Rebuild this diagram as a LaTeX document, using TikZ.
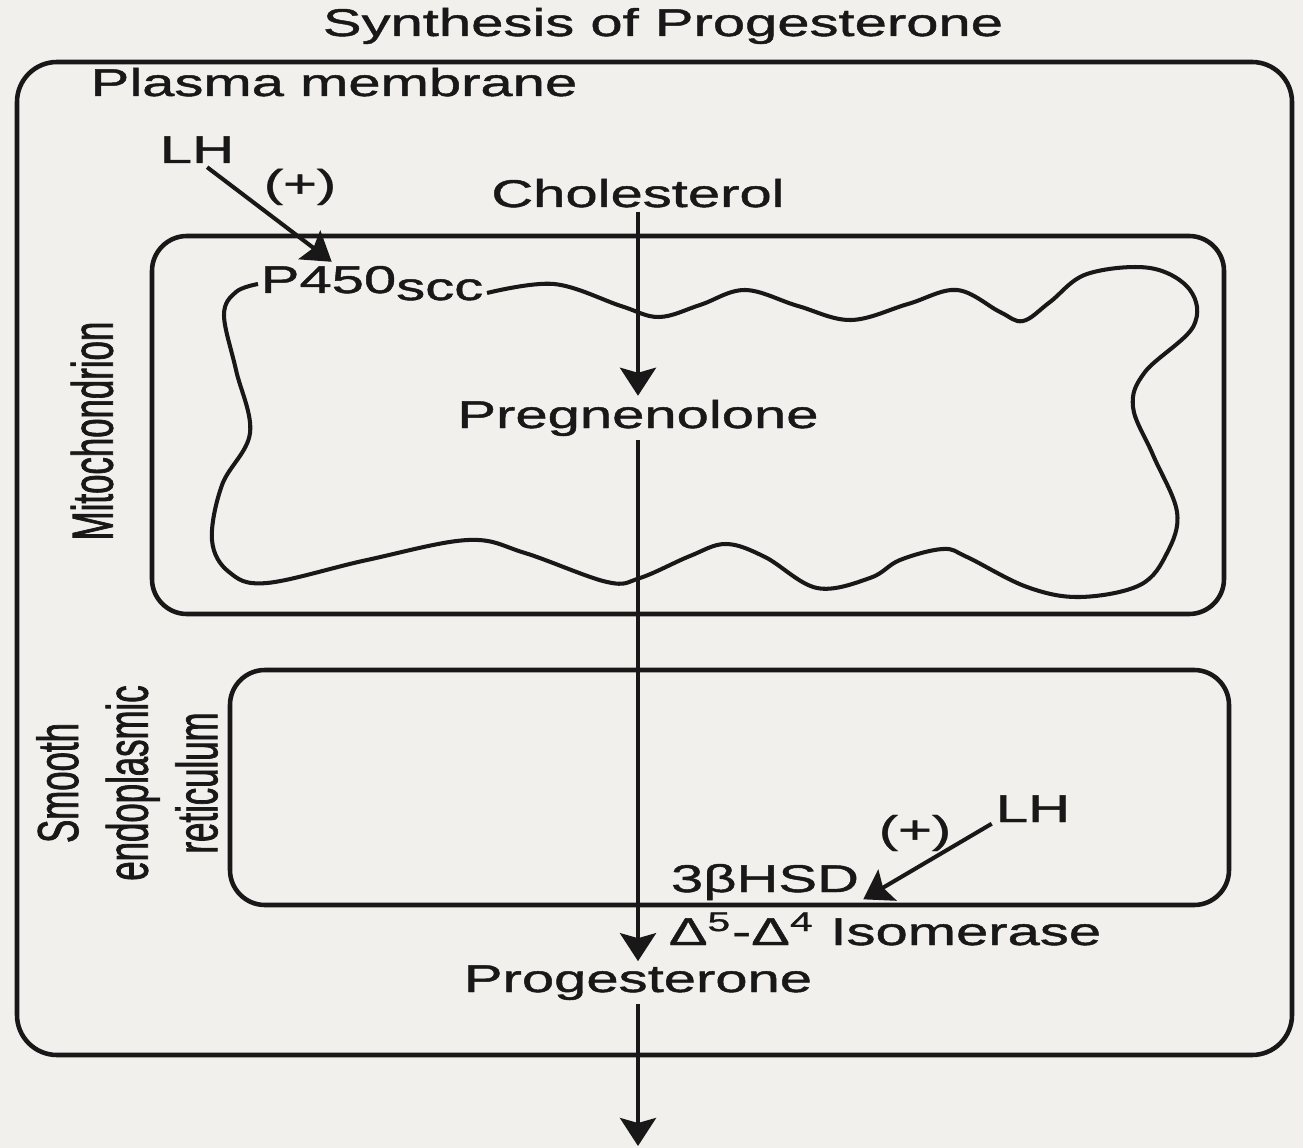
\documentclass[tikz,border=0pt]{standalone}
\usepackage{fontspec}
\setmainfont[FakeStretch=1.5, FakeBold=1.2]{Liberation Sans}
\newfontfamily\sidefont[FakeStretch=0.6, FakeBold=1.2]{Liberation Sans}
\usepackage{tikz}
\usetikzlibrary{arrows.meta, positioning, calc}

\definecolor{paper}{RGB}{242,240,236}
\definecolor{ink}{RGB}{24,24,24}

\begin{document}
\begin{tikzpicture}[
    x=0.1mm, y=-0.1mm,
    txt/.style={anchor=base, inner sep=1pt, text=ink, font=\fontsize{11}{13}\selectfont},
    sidetxt/.style={rotate=90, align=center, inner sep=1pt, text=ink, font=\sidefont\fontsize{16.5}{19.8}\selectfont},
    membrane/.style={draw=ink, line width=1.3pt, rounded corners=3.5mm},
    line/.style={draw=ink, line width=1.15pt, -{Stealth[length=2.8mm, width=3.6mm, inset=0.5mm]}}
]
    \useasboundingbox (0,0) rectangle (1303,1148);
    \fill[paper] (0,0) rectangle (1303,1148);

    \node[txt] (title) at (663,36) {Synthesis of Progesterone};

    % compartments
    \draw[membrane, rounded corners=4mm] (17,62) rectangle (1292,1055);
    \draw[membrane] (152,236) rectangle (1224,614);
    \draw[membrane] (230,670) rectangle (1229,905);

    % inner mitochondrial membrane
    \draw[ink, line width=1.15pt] plot[smooth, tension=0.6] coordinates {
        (487,293) (554,284) (621,306) (659,317) (700,305) (745,290) (798,306)
        (851,320) (908,304) (957,290) (1000,312) (1023,321) (1050,302) (1087,274)
        (1150,268) (1190,290) (1193,327) (1145,372) (1133,407) (1153,455) (1177,512)
        (1167,553) (1140,585) (1080,597) (1027,587) (967,557) (943,549) (900,560)
        (870,578) (817,588) (765,557) (726,544) (690,556) (640,578) (607,582)
        (525,553) (468,540) (367,560) (267,583) (229,572) (212,540) (222,485)
        (250,433) (236,370) (224,315) (236,292) (258,284)};

    \node[txt] (plasma) at (334,96) {Plasma membrane};
    \node[txt] (lhA) at (197,163) {LH};
    \node[txt] (plusA) at (300,197) {(+)};
    \node[txt] (chol) at (638,207) {Cholesterol};
    \node[txt] (p450) at (372,293) {P450\raisebox{-2pt}{scc}};
    \node[txt] (preg) at (638,428) {Pregnenolone};
    \node[sidetxt] (mito) at (92,431) {Mitochondrion};
    \node[sidetxt] (ser) at (127,783) {Smooth\\endoplasmic\\reticulum};
    \node[txt] (lhB) at (1033,822) {LH};
    \node[txt] (plusB) at (915,843) {(+)};
    \node[txt] (hsd) at (765,892) {3βHSD};
    \node[txt] (isom) at (885,945) {Δ\textsuperscript{5}-Δ\textsuperscript{4} Isomerase};
    \node[txt] (prog) at (638,992) {Progesterone};
    \coordinate (exit) at (638,1146);

    % pathway
    \draw[line] (chol) -- (preg);
    \draw[line] (preg) -- (prog);
    \draw[line] (prog) -- (exit);
    \draw[line] (lhA.-60) -- (p450.152);
    \draw[line] (lhB.200) -- (hsd.-10);
\end{tikzpicture}
\end{document}
